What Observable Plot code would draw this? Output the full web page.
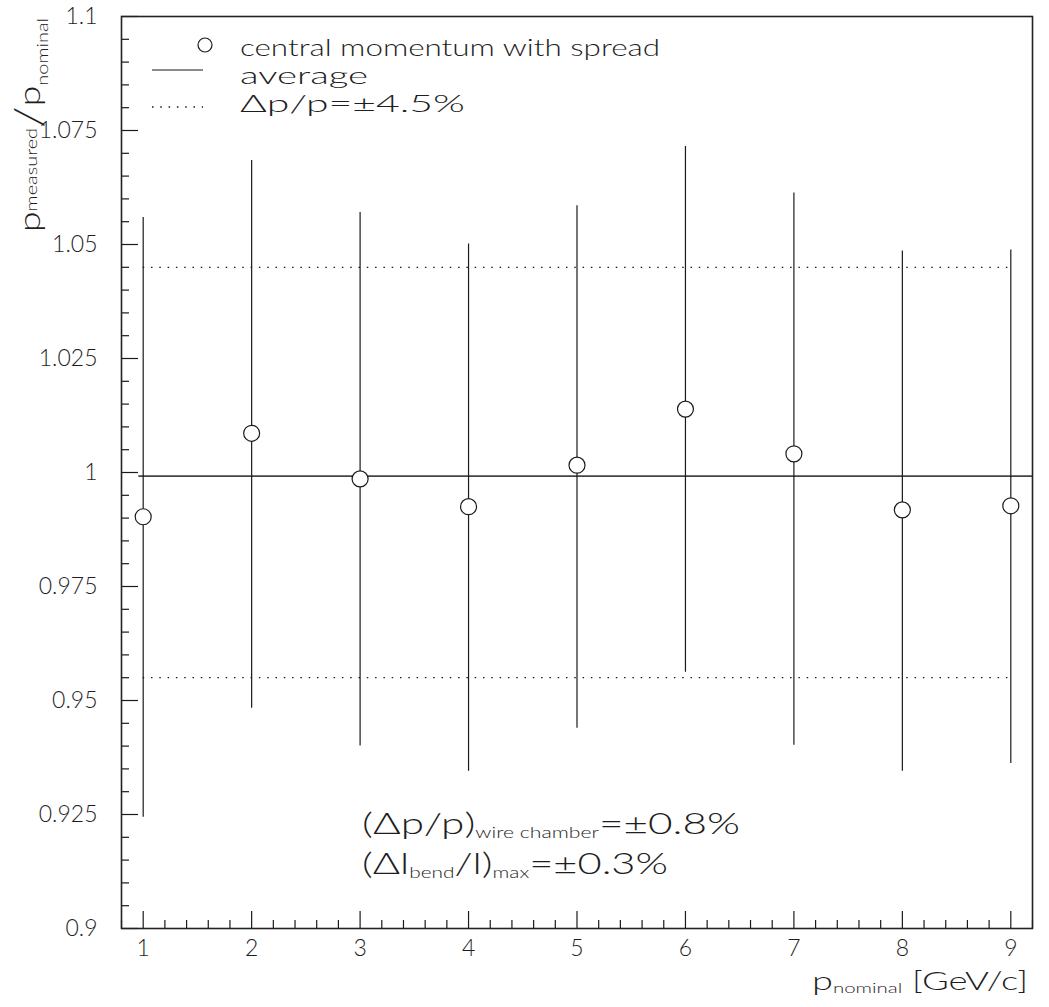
<!DOCTYPE html>
<html><head><meta charset="utf-8">
<script src="https://cdn.jsdelivr.net/npm/d3@7"></script>
<script src="https://cdn.jsdelivr.net/npm/@observablehq/plot@0.6"></script>
<style>body{margin:0;background:#fff}</style>
</head><body><div id="chart"></div>
<script>
// ---- data ----
const pNominal = [1, 2, 3, 4, 5, 6, 7, 8, 9];
const centralMomentum = [0.9903, 1.0086, 0.9986, 0.9925, 1.0016, 1.0139, 1.0041, 0.9918, 0.9927];
const spreadHigh = [1.0559, 1.0684, 1.0570, 1.0501, 1.0585, 1.0715, 1.0613, 1.0486, 1.0488];
const spreadLow  = [0.9244, 0.9483, 0.9400, 0.9345, 0.9439, 0.9562, 0.9402, 0.9345, 0.9362];
const average = [0.9992];
const averageSpan = [0.96, 9.2];
const tolerance = [1.045, 0.955];

const xMajor = [1, 2, 3, 4, 5, 6, 7, 8, 9];
const xTickLabels = ["1", "2", "3", "4", "5", "6", "7", "8", "9"];
const yMajor = [0.9, 0.925, 0.95, 0.975, 1.0, 1.025, 1.05, 1.075, 1.1];
const yTickLabels = ["0.9", "0.925", "0.95", "0.975", "1", "1.025", "1.05", "1.075", "1.1"];
const xMinor = d3.range(0, 43).map(i => +(0.8 + i * 0.2).toFixed(2)).filter(v => !xMajor.includes(v));
const yMinor = d3.range(0, 41).map(i => +(0.9 + i * 0.005).toFixed(3)).filter(v => !yMajor.some(m => Math.abs(m - v) < 1e-9));

const data = pNominal.map((p, i) => ({p, c: centralMomentum[i], hi: spreadHigh[i], lo: spreadLow[i]}));
const yLabelRows = yMajor.map((v, i) => ({v, t: yTickLabels[i]}));
const xLabelRows = xMajor.map((v, i) => ({v, t: xTickLabels[i]}));

const W = 1049, H = 1007, mL = 121, mR = 17, mT = 16, mB = 79;
const innerW = W - mL - mR, innerH = H - mT - mB;
const FONT = "Lato, 'DejaVu Sans', 'Liberation Sans', sans-serif";
const INK = "#1a1a1a";
const TXT = "#1e1e1e";

const plot = Plot.plot({
  width: W, height: H,
  marginLeft: mL, marginRight: mR, marginTop: mT, marginBottom: mB,
  style: {fontFamily: FONT, fontSize: "23px", fontWeight: 300, background: "white", color: INK},
  x: {domain: [0.8, 9.2], axis: null},
  y: {domain: [0.9, 1.1], axis: null},
  marks: [
    Plot.tickX(xMinor, {x: d => d, insetTop: innerH - 8, stroke: INK, strokeWidth: 1.2}),
    Plot.tickX(xMajor, {x: d => d, insetTop: innerH - 17, stroke: INK, strokeWidth: 1.2}),
    Plot.tickY(yMinor, {y: d => d, insetRight: innerW - 8, stroke: INK, strokeWidth: 1.2}),
    Plot.tickY(yMajor, {y: d => d, insetRight: innerW - 17, stroke: INK, strokeWidth: 1.2}),
    Plot.text(xLabelRows, {x: "v", text: "t", frameAnchor: "bottom", lineAnchor: "top", dy: 11,
      fontSize: 23, fill: TXT}),
    Plot.text(yLabelRows, {y: "v", text: "t", frameAnchor: "left", textAnchor: "end", dx: -24,
      fontSize: 23, fill: TXT}),
    Plot.ruleY(tolerance, {x1: pNominal[0], x2: pNominal[pNominal.length - 1], stroke: INK, strokeWidth: 1.3, strokeDasharray: "1.5,6.8"}),
    Plot.ruleY(average, {x1: averageSpan[0], x2: averageSpan[1], stroke: "#444", strokeWidth: 1.6}),
    Plot.ruleX(data, {x: "p", y1: "lo", y2: "hi", stroke: INK, strokeWidth: 1.2}),
    Plot.dot(data, {x: "p", y: "c", r: 8, fill: "white", stroke: INK, strokeWidth: 1.2}),
    Plot.frame({stroke: "#222", strokeWidth: 1.6})
  ]
});
document.getElementById("chart").appendChild(plot);

// ---- legend, annotations and axis titles as real text ----
const svg = d3.select(plot);
const g = svg.append("g").attr("font-family", FONT).attr("font-weight", 300)
  .attr("fill", TXT).attr("text-anchor", "start");

// legend
g.append("circle").attr("cx", 205).attr("cy", 45).attr("r", 7).attr("fill", "white").attr("stroke", INK).attr("stroke-width", 1.2);
g.append("line").attr("x1", 152).attr("x2", 203).attr("y1", 70).attr("y2", 70).attr("stroke", INK).attr("stroke-width", 1.2);
g.append("line").attr("x1", 152).attr("x2", 203).attr("y1", 107).attr("y2", 107).attr("stroke", INK).attr("stroke-width", 1.3).attr("stroke-dasharray", "1.5,6.8");
const legendRows = [
  {t: "central momentum with spread", y: 56, w: 420},
  {t: "average", y: 84, w: 128},
  {t: "Δp/p=±4.5%", y: 112, w: 225}
];
legendRows.forEach(r => g.append("text").attr("x", 240).attr("y", r.y).attr("font-size", 23)
  .attr("text-anchor", "start").attr("textLength", r.w).attr("lengthAdjust", "spacingAndGlyphs").text(r.t));

// annotation lines with subscripts
function rich(parent, x, y, parts, opts = {}) {
  const t = parent.append("text").attr("x", x).attr("y", y).attr("text-anchor", opts.anchor || "start");
  if (opts.transform) t.attr("transform", opts.transform);
  if (opts.len) t.attr("textLength", opts.len).attr("lengthAdjust", "spacingAndGlyphs");
  parts.forEach(p => t.append("tspan").attr("font-size", p.fs).attr("dy", p.dy || 0).text(p.t));
  return t;
}
rich(g, 362, 834, [
  {t: "(Δp/p)", fs: 30}, {t: "wire chamber", fs: 15, dy: 4}, {t: "=±0.8%", fs: 30, dy: -4}
], {len: 378});
rich(g, 362, 874, [
  {t: "(Δl", fs: 30}, {t: "bend", fs: 15, dy: 4}, {t: "/l)", fs: 30, dy: -4},
  {t: "max", fs: 15, dy: 4}, {t: "=±0.3%", fs: 30, dy: -4}
], {len: 306});

// x axis title
rich(g, 1028, 990, [
  {t: "p", fs: 26}, {t: "nominal", fs: 14, dy: 3}, {t: " [GeV/c]", fs: 25, dy: -3}
], {anchor: "end", len: 216});

// y axis title (rotated)
rich(g, 0, 0, [
  {t: "p", fs: 30}, {t: "measured", fs: 16, dy: -3}, {t: "/", fs: 40, dy: 6},
  {t: "p", fs: 30, dy: -3}, {t: "nominal", fs: 16, dy: 8}
], {transform: "translate(40,232) rotate(-90)", len: 214});
</script>
</body></html>
